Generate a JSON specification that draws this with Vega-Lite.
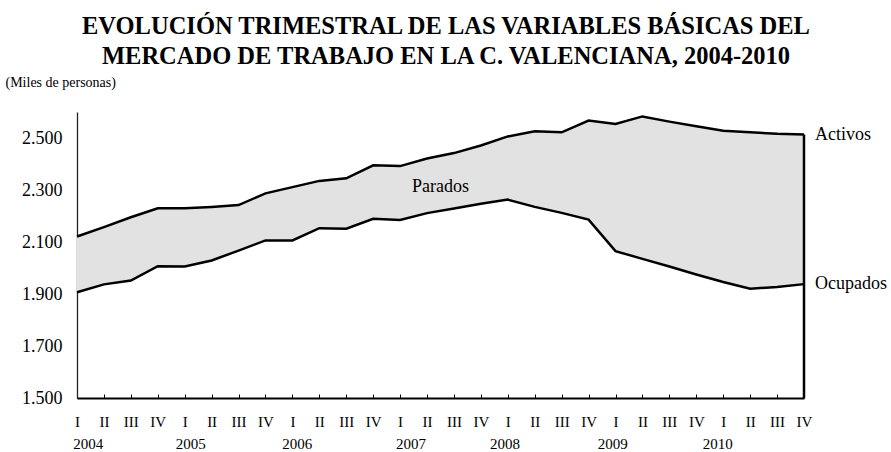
{
  "$schema": "https://vega.github.io/schema/vega-lite/v6.json",
  "autosize": "none",
  "padding": {"left": 77, "top": 112, "right": 87, "bottom": 54},
  "width": 727,
  "height": 286,
  "background": "white",
  "config": {
    "view": {"stroke": null},
    "font": "Liberation Serif",
    "text": {"font": "Liberation Serif"}
  },
  "title": {
    "text": ["EVOLUCIÓN TRIMESTRAL DE LAS VARIABLES BÁSICAS DEL", "MERCADO DE TRABAJO EN LA C. VALENCIANA, 2004-2010"],
    "font": "Liberation Serif",
    "fontSize": 24.5,
    "fontWeight": "bold",
    "lineHeight": 30,
    "anchor": "middle",
    "frame": "bounds",
    "color": "black",
    "offset": 6
  },
  "datasets": {
    "series": [
      {"i": 0, "Activos": 2121, "Ocupados": 1907},
      {"i": 1, "Activos": 2157, "Ocupados": 1937},
      {"i": 2, "Activos": 2195, "Ocupados": 1952},
      {"i": 3, "Activos": 2230, "Ocupados": 2007},
      {"i": 4, "Activos": 2230, "Ocupados": 2006},
      {"i": 5, "Activos": 2235, "Ocupados": 2029},
      {"i": 6, "Activos": 2242, "Ocupados": 2067},
      {"i": 7, "Activos": 2287, "Ocupados": 2106},
      {"i": 8, "Activos": 2311, "Ocupados": 2106},
      {"i": 9, "Activos": 2335, "Ocupados": 2153},
      {"i": 10, "Activos": 2345, "Ocupados": 2151},
      {"i": 11, "Activos": 2395, "Ocupados": 2189},
      {"i": 12, "Activos": 2392, "Ocupados": 2185},
      {"i": 13, "Activos": 2421, "Ocupados": 2211},
      {"i": 14, "Activos": 2442, "Ocupados": 2229},
      {"i": 15, "Activos": 2471, "Ocupados": 2247},
      {"i": 16, "Activos": 2506, "Ocupados": 2263},
      {"i": 17, "Activos": 2526, "Ocupados": 2235},
      {"i": 18, "Activos": 2522, "Ocupados": 2212},
      {"i": 19, "Activos": 2567, "Ocupados": 2186},
      {"i": 20, "Activos": 2554, "Ocupados": 2065},
      {"i": 21, "Activos": 2583, "Ocupados": 2035},
      {"i": 22, "Activos": 2563, "Ocupados": 2006},
      {"i": 23, "Activos": 2545, "Ocupados": 1975},
      {"i": 24, "Activos": 2528, "Ocupados": 1946},
      {"i": 25, "Activos": 2522, "Ocupados": 1920},
      {"i": 26, "Activos": 2516, "Ocupados": 1927},
      {"i": 27, "Activos": 2513, "Ocupados": 1938}
    ],
    "labels": [
      {"name": "Activos", "i": 27, "v": 2513},
      {"name": "Ocupados", "i": 27, "v": 1938}
    ],
    "inner": [
      {"name": "Parados", "i": 13.5, "v": 2310}
    ],
    "yticks": [
      {"v": 1500}, {"v": 1700}, {"v": 1900}, {"v": 2100}, {"v": 2300}, {"v": 2500}
    ],
    "years": [
      {"year": "2004", "pos": 0.42},
      {"year": "2005", "pos": 4.22},
      {"year": "2006", "pos": 8.18},
      {"year": "2007", "pos": 12.4},
      {"year": "2008", "pos": 15.9},
      {"year": "2009", "pos": 19.9},
      {"year": "2010", "pos": 23.8}
    ]
  },
  "encoding": {
    "x": {
      "field": "i", "type": "quantitative",
      "scale": {"domain": [0, 27], "nice": false, "zero": false},
      "axis": {
        "title": null,
        "values": [0,1,2,3,4,5,6,7,8,9,10,11,12,13,14,15,16,17,18,19,20,21,22,23,24,25,26,27],
        "labelExpr": "['I','II','III','IV'][datum.value % 4]",
        "grid": false,
        "domainColor": "black",
        "domainWidth": 2,
        "tickColor": "black",
        "tickSize": -4,
        "tickWidth": 1,
        "labelFont": "Liberation Serif",
        "labelFontSize": 15,
        "labelColor": "black",
        "labelPadding": 27,
        "labelBaseline": "middle",
        "labelFlush": false,
        "labelOverlap": false,
        "labelBound": false
      }
    }
  },
  "layer": [
    {
      "data": {"name": "series"},
      "mark": {"type": "area", "color": "#e2e2e2"},
      "encoding": {
        "y": {
          "field": "Ocupados", "type": "quantitative",
          "scale": {"domain": [1500, 2600], "nice": false, "zero": false},
          "axis": {
            "title": "(Miles de personas)",
            "titleFont": "Liberation Serif",
            "titleFontSize": 14,
            "titleFontWeight": "normal",
            "titleColor": "black",
            "titleAngle": 0,
            "titleAlign": "left",
            "titleBaseline": "middle",
            "titleX": -72,
            "titleY": -30,
            "values": [1500, 1700, 1900, 2100, 2300, 2500],
            "labelExpr": "replace(format(datum.value, ','), ',', '.')",
            "grid": false,
            "domainColor": "#222",
            "domainWidth": 1.3,
            "ticks": false,
            "labelFont": "Liberation Serif",
            "labelFontSize": 18,
            "labelColor": "black",
            "labelPadding": 15
          }
        },
        "y2": {"field": "Activos"}
      }
    },
    {
      "data": {"name": "yticks"},
      "mark": {"type": "tick", "orient": "horizontal", "color": "black", "size": 11, "thickness": 1},
      "encoding": {
        "x": {"datum": 0, "type": "quantitative"},
        "y": {"field": "v", "type": "quantitative"}
      }
    },
    {
      "data": {"name": "series"},
      "mark": {"type": "line", "color": "black", "strokeWidth": 2.5},
      "encoding": {
        "y": {"field": "Activos", "type": "quantitative"}
      }
    },
    {
      "data": {"name": "series"},
      "mark": {"type": "line", "color": "black", "strokeWidth": 2.5},
      "encoding": {
        "y": {"field": "Ocupados", "type": "quantitative"}
      }
    },
    {
      "data": {"name": "series"},
      "transform": [{"filter": "datum.i == 27"}],
      "mark": {"type": "rule", "color": "black", "strokeWidth": 2.5},
      "encoding": {
        "y": {"field": "Activos", "type": "quantitative"},
        "y2": {"datum": 1500}
      }
    },
    {
      "data": {"name": "labels"},
      "mark": {"type": "text", "align": "left", "baseline": "middle", "dx": 11, "fontSize": 18, "font": "Liberation Serif", "color": "black"},
      "encoding": {
        "y": {"field": "v", "type": "quantitative"},
        "text": {"field": "name"}
      }
    },
    {
      "data": {"name": "inner"},
      "mark": {"type": "text", "align": "center", "baseline": "middle", "fontSize": 18, "font": "Liberation Serif", "color": "black"},
      "encoding": {
        "y": {"field": "v", "type": "quantitative"},
        "text": {"field": "name"}
      }
    },
    {
      "data": {"name": "years"},
      "mark": {"type": "text", "align": "center", "baseline": "middle", "dy": 46, "fontSize": 15, "font": "Liberation Serif", "color": "black"},
      "encoding": {
        "x": {"field": "pos", "type": "quantitative"},
        "y": {"datum": 1500, "type": "quantitative"},
        "text": {"field": "year"}
      }
    }
  ]
}
